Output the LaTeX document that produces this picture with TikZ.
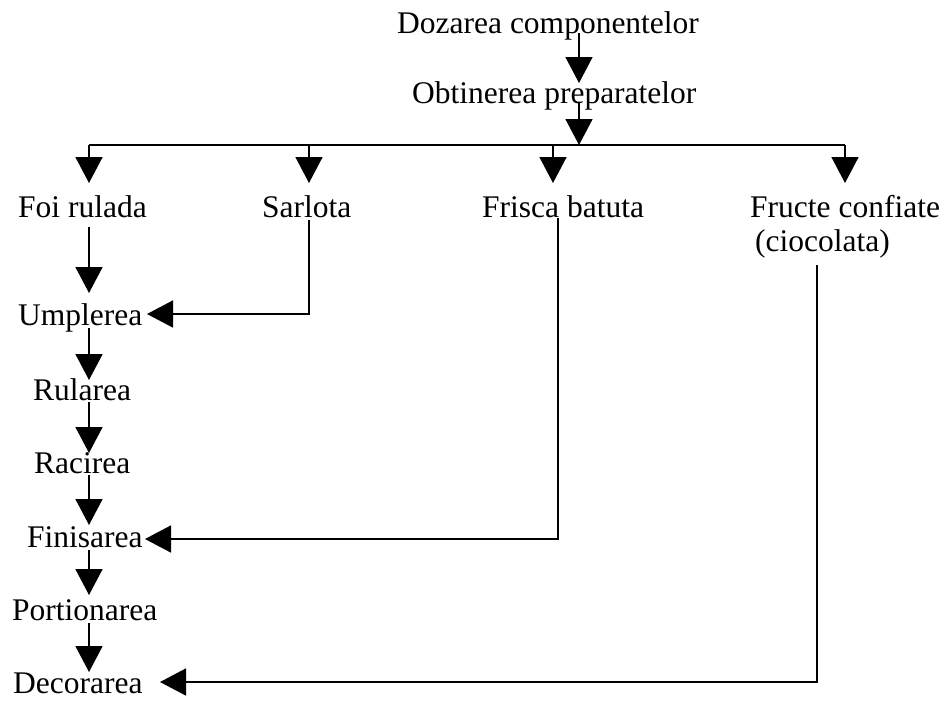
\documentclass[tikz,border=0pt]{standalone}
\usepackage{fontspec}
\setmainfont{Liberation Serif}
\usetikzlibrary{arrows.meta}
\begin{document}
\begin{tikzpicture}[x=1pt,y=-1pt,
  lbl/.style={anchor=base west,inner sep=0pt,font=\fontsize{31.5}{38}\selectfont},
  wire/.style={line width=1.6pt},
  flow/.style={wire,-{Triangle[length=26pt,width=27pt]}}]
\useasboundingbox (0,0) rectangle (947,702);

% process steps
\node[lbl] (doz) at (397,33)  {Dozarea componentelor};
\node[lbl] (obt) at (412,103) {Obtinerea preparatelor};
\node[lbl] (foi) at (18,217)  {Foi rulada};
\node[lbl] (sar) at (262,217) {Sarlota};
\node[lbl] (fri) at (482,217) {Frisca batuta};
\node[lbl] (fru) at (750,217) {Fructe confiate};
\node[lbl] (cio) at (755,251) {(ciocolata)};
\node[lbl] (ump) at (18,325)  {Umplerea};
\node[lbl] (rul) at (33,400)  {Rularea};
\node[lbl] (rac) at (34,473)  {Racirea};
\node[lbl] (fin) at (27,547)  {Finisarea};
\node[lbl] (por) at (12,620)  {Portionarea};
\node[lbl] (dec) at (13,693)  {Decorarea};

% guide positions of the vertical flow lines
\coordinate (trunk) at (579,0);
\coordinate (colA) at (89,0);
\coordinate (colB) at (309,0);
\coordinate (colC) at (553,0);
\coordinate (colD) at (845,0);
\coordinate (bus) at (0,145);
\coordinate (tips) at (0,183);
\coordinate (obtTop) at (0,83);

% main trunk
\draw[flow] (doz.base -| trunk) -- (obtTop -| trunk);
\draw[flow] (obt.base -| trunk) -- (bus -| trunk);

% distribution bus
\draw[wire] (bus -| colA) -- (bus -| colD);
\draw[flow] (bus -| colA) -- (tips -| colA);
\draw[flow] (bus -| colB) -- (tips -| colB);
\draw[flow] (bus -| colC) -- (tips -| colC);
\draw[flow] (bus -| colD) -- (tips -| colD);

% left column
\coordinate (f1) at (89,227);  \coordinate (u0) at (89,293);
\coordinate (u1) at (89,328);  \coordinate (r0) at (89,380);
\coordinate (r1) at (89,402);  \coordinate (c0) at (89,453);
\coordinate (c1) at (89,475);  \coordinate (n0) at (89,525);
\coordinate (n1) at (89,550);  \coordinate (p0) at (89,595);
\coordinate (p1) at (89,623);  \coordinate (d0) at (89,672);
\draw[flow] (f1) -- (u0);
\draw[flow] (u1) -- (r0);
\draw[flow] (r1) -- (c0);
\draw[flow] (c1) -- (n0);
\draw[flow] (n1) -- (p0);
\draw[flow] (p1) -- (d0);

% side feeds
\coordinate (sarT) at (309,220); \coordinate (sarB) at (309,314); \coordinate (umpE) at (147,314);
\coordinate (friT) at (558,218); \coordinate (friB) at (558,539); \coordinate (finE) at (145,539);
\coordinate (fruT) at (817,265); \coordinate (fruB) at (817,682); \coordinate (decE) at (160,682);
\draw[flow] (sarT) -- (sarB) -- (umpE);
\draw[flow] (friT) -- (friB) -- (finE);
\draw[flow] (fruT) -- (fruB) -- (decE);
\end{tikzpicture}
\end{document}
